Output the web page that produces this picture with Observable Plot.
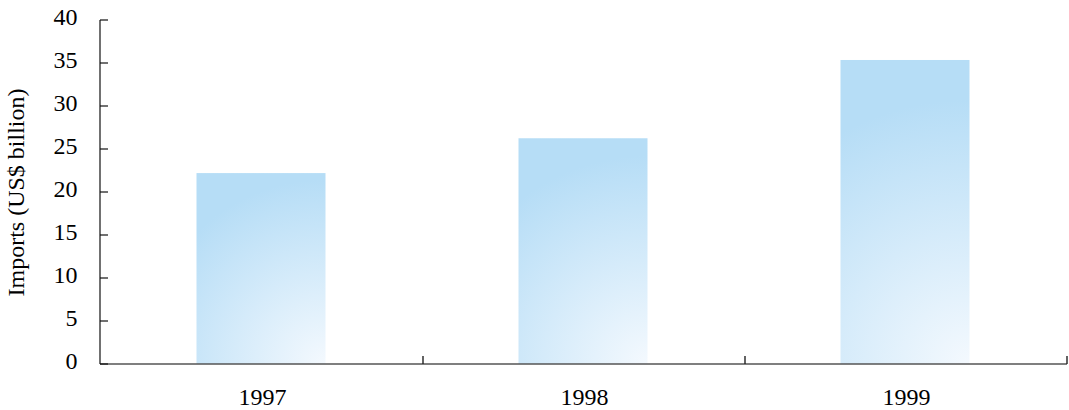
<!DOCTYPE html>
<html>
<head>
<meta charset="utf-8">
<script src="https://cdn.jsdelivr.net/npm/d3@7"></script>
<script src="https://cdn.jsdelivr.net/npm/@observablehq/plot@0.6"></script>
<style>
  html, body { margin: 0; padding: 0; background: #fff; }
  #chart svg { display: block; }
</style>
</head>
<body>
<div id="chart"></div>
<script>
// ---- data ----
const years = ["1997", "1998", "1999"];
const imports = [22.2, 26.25, 35.35];
const yTicks = [0, 5, 10, 15, 20, 25, 30, 35, 40];
const yLabel = "Imports (US$ billion)";

const data = years.map((year, i) => ({year, value: imports[i]}));
const FONT = "'Liberation Serif', 'Times New Roman', Times, serif";

// custom mark: axis lines and inward ticks, positioned through the scales
function axesMark(index, scales, values, dimensions) {
  const {marginLeft, marginRight, width} = dimensions;
  const x = scales.x, y = scales.y;
  const g = d3.create("svg:g").attr("fill", "none");
  const y0 = y(0), yTop = y(d3.max(yTicks));
  const xRight = width - marginRight;
  g.append("line").attr("x1", marginLeft).attr("x2", xRight)
    .attr("y1", y0).attr("y2", y0).attr("stroke", "#555").attr("stroke-width", 1.4);
  g.append("line").attr("x1", marginLeft).attr("x2", marginLeft)
    .attr("y1", yTop).attr("y2", y0).attr("stroke", "#111").attr("stroke-width", 1.2);
  for (const t of yTicks) {
    g.append("line").attr("x1", marginLeft).attr("x2", marginLeft + 8)
      .attr("y1", y(t)).attr("y2", y(t)).attr("stroke", "#111").attr("stroke-width", 1.2);
  }
  const bw = x.bandwidth ? x.bandwidth() : (xRight - marginLeft) / years.length;
  for (const yr of years) {
    const xe = x(yr) + bw;
    g.append("line").attr("x1", xe).attr("x2", xe)
      .attr("y1", y0 - 8).attr("y2", y0).attr("stroke", "#222").attr("stroke-width", 1.4);
  }
  return g.node();
}

const chart = Plot.plot({
  width: 1069,
  height: 410,
  marginLeft: 100,
  marginRight: 2,
  marginTop: 20,
  marginBottom: 46,
  style: {fontFamily: FONT, fontSize: "24px", color: "#000", background: "#fff"},
  x: {domain: years, padding: 0},
  y: {domain: [0, 40]},
  marks: [
    Plot.barY(data, {x: "year", y: "value", fill: "#b6ddf6", insetLeft: 95.5, insetRight: 97.5}),
    Plot.axisX({tickSize: 0, tickPadding: 23, fontSize: 24, label: null}),
    Plot.axisY({ticks: yTicks, tickSize: 0, tickPadding: 23, fontSize: 24, dy: -3,
      label: yLabel, labelAnchor: "center", labelOffset: 94, labelArrow: false}),
    axesMark
  ]
});

const svg = d3.select(chart.tagName.toLowerCase() === "svg" ? chart : chart.querySelector("svg"));
const defs = svg.insert("defs", ":first-child");
svg.selectAll("g[aria-label='bar'] rect").each(function(d, i) {
  const r = d3.select(this);
  const bx = +r.attr("x"), by = +r.attr("y"), bw = +r.attr("width"), bh = +r.attr("height");
  const id = "barGrad" + i;
  const grad = defs.append("radialGradient").attr("id", id)
    .attr("gradientUnits", "userSpaceOnUse")
    .attr("cx", bx + bw).attr("cy", by + bh)
    .attr("fx", bx + bw).attr("fy", by + bh)
    .attr("r", Math.hypot(bw, bh));
  grad.append("stop").attr("offset", 0).attr("stop-color", "#f4f9fe");
  grad.append("stop").attr("offset", 0.8).attr("stop-color", "#b6ddf6");
  grad.append("stop").attr("offset", 1).attr("stop-color", "#b6ddf6");
  r.attr("fill", `url(#${id})`);
});

document.getElementById("chart").appendChild(chart);
</script>
</body>
</html>
